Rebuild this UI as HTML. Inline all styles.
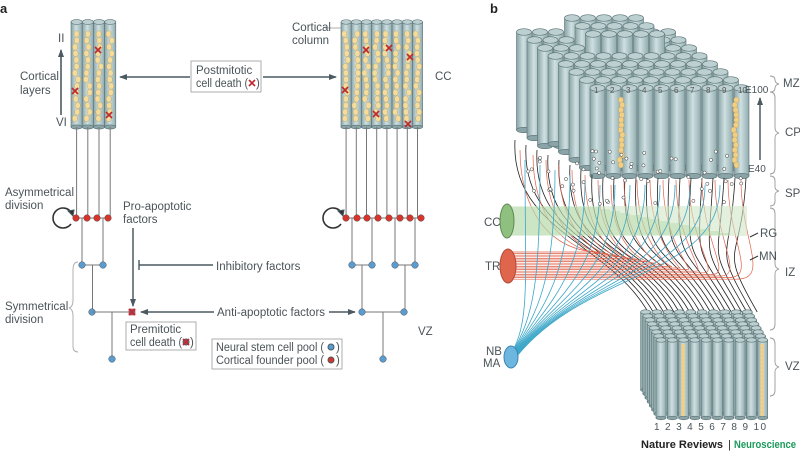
<!DOCTYPE html>
<html><head><meta charset="utf-8"><style>
html,body{margin:0;padding:0;background:#fff;}
svg{display:block;font-family:"Liberation Sans",sans-serif;}
</style></head><body>
<svg id="s" width="800" height="452" viewBox="0 0 800 452" xmlns="http://www.w3.org/2000/svg">
<defs>
<linearGradient id="cg" x1="0" x2="1" y1="0" y2="0">
<stop offset="0" stop-color="#88a3a6"/><stop offset="0.45" stop-color="#cfe0e1"/><stop offset="1" stop-color="#90abae"/>
</linearGradient>
<marker id="ah" markerWidth="8" markerHeight="8" refX="7" refY="4" orient="auto" markerUnits="userSpaceOnUse"><path d="M0,1 L8,4 L0,7 z" fill="#4a5a60"/></marker>
</defs>
<g id="bg"></g>
<g id="a" stroke="#4a5a60" fill="none"></g>
<g id="btext" font-size="11.5" fill="#4a5459">
<text x="0" y="13" font-weight="bold" font-size="13" fill="#222">a</text>
<text x="490" y="13" font-weight="bold" font-size="13" fill="#222">b</text>
<text x="58" y="42">II</text>
<text x="56" y="126">VI</text>
<text x="20" y="80">Cortical</text><text x="20" y="94">layers</text>
<text x="292" y="31">Cortical</text><text x="292" y="44">column</text>
<text x="435" y="80">CC</text>
<text x="5" y="196">Asymmetrical</text><text x="5" y="209">division</text>
<text x="123" y="210">Pro-apoptotic</text><text x="123" y="223">factors</text>
<text x="216" y="270">Inhibitory factors</text>
<text x="217" y="316">Anti-apoptotic factors</text>
<text x="5" y="310">Symmetrical</text><text x="5" y="323">division</text>
<text x="418" y="335">VZ</text>
<text x="196" y="74">Postmitotic</text><text x="196" y="87" textLength="52" lengthAdjust="spacingAndGlyphs">cell death (</text><text x="256" y="87">)</text>
<text x="130" y="333">Premitotic</text><text x="130" y="346" textLength="52" lengthAdjust="spacingAndGlyphs">cell death (</text><text x="190" y="346">)</text>
<text x="216" y="351" textLength="108" lengthAdjust="spacingAndGlyphs">Neural stem cell pool (</text><text x="336" y="351">)</text>
<text x="216" y="364" textLength="108" lengthAdjust="spacingAndGlyphs">Cortical founder pool (</text><text x="336" y="364">)</text>
<text x="783" y="87">MZ</text><text x="785" y="136">CP</text><text x="785" y="197">SP</text>
<text x="785" y="276">IZ</text><text x="785" y="370">VZ</text>
<text x="745" y="93" font-size="10">E100</text><text x="748" y="172" font-size="10">E40</text>
<text x="484" y="226">CC</text><text x="485" y="270">TR</text>
<text x="486" y="355">NB</text><text x="483" y="367">MA</text>
<text x="760" y="237">RG</text><text x="759" y="260">MN</text>
<text x="654" y="430" font-size="10" textLength="112" lengthAdjust="spacing">1 2 3 4 5 6 7 8 9 10</text>
<text x="641" y="448" font-size="11" font-weight="bold" fill="#222" textLength="82" lengthAdjust="spacingAndGlyphs">Nature Reviews</text>
<text x="728" y="448" font-size="11" fill="#222">|</text>
<text x="734" y="448" font-size="11" font-weight="bold" fill="#1b9a5a" textLength="62" lengthAdjust="spacingAndGlyphs">Neuroscience</text>
</g>
</svg>
<script>
var NS="http://www.w3.org/2000/svg",S=document.getElementById('s'),A=document.getElementById('a'),BG=document.getElementById('bg');
function el(t,at,p){var e=document.createElementNS(NS,t);for(var k in at)e.setAttribute(k,at[k]);(p||S).appendChild(e);return e;}
function ln(x1,y1,x2,y2,c,w,p){return el('line',{x1:x1,y1:y1,x2:x2,y2:y2,stroke:c||'#4a5a60','stroke-width':w||1.2},p||A);}
function dot(x,y,c,p){el('circle',{cx:x,cy:y,r:3.3,fill:c,stroke:'#555','stroke-width':0.5},p||A);}
function xm(x,y,p){el('path',{d:'M'+(x-3)+','+(y-3)+'L'+(x+3)+','+(y+3)+'M'+(x+3)+','+(y-3)+'L'+(x-3)+','+(y+3),stroke:'#c0282a','stroke-width':1.6,fill:'none'},p||A);}
function cyl(x,y,w,h,p){p=p||BG;el('rect',{x:x,y:y,width:w,height:h,fill:'url(#cg)',stroke:'#5b7275','stroke-width':0.6},p);
 el('ellipse',{cx:x+w/2,cy:y+h,rx:w/2,ry:w*0.18,fill:'#8aa4a7',stroke:'#5b7275','stroke-width':0.6},p);
 el('ellipse',{cx:x+w/2,cy:y,rx:w/2,ry:w*0.22,fill:'#bcd0d1',stroke:'#5b7275','stroke-width':0.6},p);}
var sd=7;function R(){sd=(sd*9301+49297)%233280;return sd/233280;}
function colGroup(x0,n,w){for(var i=0;i<n;i++){var x=x0+i*w;cyl(x,22,w,105);
 for(var y=34;y<122;y+=6.5){el('ellipse',{cx:x+w/2+(R()-0.5)*4,cy:y,rx:2.6,ry:3.2,fill:'#f6dc9c',stroke:'#b09a60','stroke-width':0.4},BG);}
 ln(x+w/2,127,x+w/2,218,'#777',1,BG);}}
colGroup(71,4,11.2);colGroup(341,8,10.2);
[[75,91],[98,50],[109,115]].forEach(function(p){xm(p[0],p[1]);});
[[345,90],[366,50],[389,48],[376,114],[410,57],[408,124]].forEach(function(p){xm(p[0],p[1]);});
ln(61,115,61,50,'#4a5a60',1.6).setAttribute('marker-end','url(#ah)');
el('rect',{x:191,y:61,width:70,height:31,fill:'#fff',stroke:'#999','stroke-width':0.8},A);
xm(252,83);
ln(190,77,120,77,'#4a5a60',1.5).setAttribute('marker-end','url(#ah)');
ln(263,77,336,77,'#4a5a60',1.5).setAttribute('marker-end','url(#ah)');
ln(325,28,341,28,'#999',0.8);
function tree(reds,blues,mids,bot){
 blues.forEach(function(b){ln(b,218,b,265,'#777',1);});
 for(var i=0;i<blues.length;i+=2){ln(blues[i],265,blues[i+1],265,'#777',1);var m=(blues[i]+blues[i+1])/2;ln(m,265,m,312,'#777',1);}
 ln(mids[0],312,mids[mids.length-1],312,'#777',1);ln(bot,312,bot,359,'#777',1);
 reds.forEach(function(r){dot(r,218,'#d9342b');});blues.forEach(function(b){dot(b,265,'#5a9bd0');});
 mids.forEach(function(b){dot(b,312,'#5a9bd0');});dot(bot,359,'#5a9bd0');}
ln(76,218,108,218,'#777',1);ln(346,218,421,218,'#777',1);
tree([76,87,97,108],[82,103],[92],112);
ln(92,312,132,312,'#777',1);
tree([346,357,367,378,389,400,410,421],[352,372,395,415],[362,404],383);
[[62,218],[332,218]].forEach(function(c){el('path',{d:'M'+(c[0]+9)+','+(c[1]+6)+' A10,10 0 1 1 '+(c[0]+9)+','+(c[1]-6),stroke:'#333','stroke-width':1.6,fill:'none'},A);
 el('path',{d:'M'+(c[0]+11)+','+(c[1]-2)+' l-5,-5 l6,-1z',fill:'#333'},A);});
ln(133,228,133,306,'#4a5a60',1.5).setAttribute('marker-end','url(#ah)');
ln(139,265,213,265,'#4a5a60',1.4);ln(139,260,139,270,'#4a5a60',1.4);
ln(214,312,141,312,'#4a5a60',1.4).setAttribute('marker-end','url(#ah)');
ln(329,312,355,312,'#4a5a60',1.4).setAttribute('marker-end','url(#ah)');
el('rect',{x:129,y:309,width:6,height:6,fill:'#8a6a9a',stroke:'#c0282a','stroke-width':0.6},A);xm(132,312);
el('rect',{x:126,y:322,width:70,height:28,fill:'none',stroke:'#999','stroke-width':0.8},A);
el('circle',{cx:186,cy:342,r:3,fill:'#8a6a9a'},A);xm(186,342);
el('rect',{x:212,y:339,width:130,height:30,fill:'none',stroke:'#999','stroke-width':0.8},A);
el('circle',{cx:331,cy:347,r:3,fill:'#5a9bd0'},A);el('circle',{cx:331,cy:360,r:3,fill:'#d9342b'},A);
el('path',{d:'M78,262 q-5,0 -5,8 v30 q0,7 -4,8 q4,1 4,8 v30 q0,6 5,6',stroke:'#aaa','stroke-width':0.9,fill:'none'},A);
// ===== panel b =====
var B=el('g',{});
var order=[];
for(var r=7;r>=0;r--)for(var c=0;c<10;c++){var extra=(r>=5&&c>=3&&c<=7)?-14:0;
 order.push([590+c*16-r*10.5, 88-r*8+extra, r]);}
var L=el('g',{fill:'none'});
for(var i=0;i<22;i++){var xs=515+i*11,ys=i<8?140+i*5:178;var xe=648+i*5.2,ye=312;
 el('path',{d:'M'+xs+','+ys+' C'+(xs-5)+','+(ys+90)+' '+(xe-40)+','+(ye-70)+' '+xe+','+ye,stroke:'#222','stroke-width':0.8},L);}
for(var i=0;i<18;i++){var yy=252+i*1.6,xe=520+i*13,ye=i<8?150+i*5:180;
 el('path',{d:'M508,'+yy+' L'+(600+i*8)+','+yy+' C'+(xe+30)+','+yy+' '+xe+','+(ye+60)+' '+xe+','+ye,stroke:'#e0624a','stroke-width':0.7},L);}
el('rect',{x:507,y:206,width:240,height:30,fill:'#cfe6c6',opacity:0.6},L);
for(var i=0;i<14;i++){var yy=208+i*2;el('line',{x1:507,y1:yy,x2:600+i*10,y2:yy,stroke:'#8cc47c','stroke-width':0.6},L);}
for(var i=0;i<14;i++){var xe=525+i*15,ye=i<6?160+i*5:185;
 el('path',{d:'M512,'+(352+i*0.8)+' C'+(530+i*4)+','+(320-i*4)+' '+xe+','+(280)+' '+xe+','+ye,stroke:'#3aa6c8','stroke-width':0.8},L);}
order.forEach(function(o){cyl(o[0],o[1],15,88+(o[2]>4?10:0),B);});
for(var y=100;y<170;y+=5){el('ellipse',{cx:621+(R()-.5)*3,cy:y,rx:2.6,ry:3,fill:'#f3cf84',stroke:'#b0904e','stroke-width':0.3},B);
 el('ellipse',{cx:735+(R()-.5)*3,cy:y,rx:2.6,ry:3,fill:'#f3cf84',stroke:'#b0904e','stroke-width':0.3},B);}
['1','2','3','4','5','6','7','8','9','10'].forEach(function(n,c){el('text',{x:594+c*16,y:93,'font-size':8,fill:'#555'},B).textContent=n;});
for(var i=0;i<60;i++){el('circle',{cx:520+R()*230,cy:(150+R()*55),r:1.6,fill:'#fff',stroke:'#333','stroke-width':0.5},L);}
el('ellipse',{cx:507,cy:221,rx:7,ry:17,fill:'#8fc07f',stroke:'#5d8a52'},S);
el('ellipse',{cx:508,cy:266,rx:8,ry:17,fill:'#e0654d',stroke:'#b24a36'},S);
el('ellipse',{cx:511,cy:357,rx:7,ry:11,fill:'#6cb6e0',stroke:'#3c85b0'},S);
var BB=el('g',{});
for(var r=7;r>=0;r--)for(var c=0;c<10;c++)cyl(656+c*11.3-r*2.2,340-r*4,10,78,BB);
for(var y=346;y<416;y+=4){el('ellipse',{cx:683,cy:y,rx:1.8,ry:2.2,fill:'#f3cf84'},BB);el('ellipse',{cx:762,cy:y,rx:1.8,ry:2.2,fill:'#f3cf84'},BB);}
var G=el('g',{stroke:'#999',fill:'none','stroke-width':0.9});
el('path',{d:'M770,76 q5,0 5,4 q0,3 4,4 q-4,1 -4,4 q0,4 -5,4'},G);
el('path',{d:'M770,92 q5,0 5,6 v30 q0,4 4,5 q-4,1 -4,5 v30 q0,6 -5,6'},G);
el('path',{d:'M770,176 q5,0 5,5 v6 q0,3 4,4 q-4,1 -4,4 v6 q0,5 -5,5'},G);
el('path',{d:'M770,208 q5,0 5,6 v50 q0,4 4,5 q-4,1 -4,5 v50 q0,6 -5,6'},G);
el('path',{d:'M770,338 q5,0 5,6 v18 q0,4 4,5 q-4,1 -4,5 v18 q0,6 -5,6'},G);
var ar=el('line',{x1:760,y1:160,x2:760,y2:98,stroke:'#4a5a60','stroke-width':1.5},S);ar.setAttribute('marker-end','url(#ah)');
el('line',{x1:758,y1:233,x2:750,y2:237,stroke:'#333'},S);el('line',{x1:758,y1:256,x2:750,y2:260,stroke:'#333'},S);
S.appendChild(document.getElementById('btext'));
</script>
</body></html>
